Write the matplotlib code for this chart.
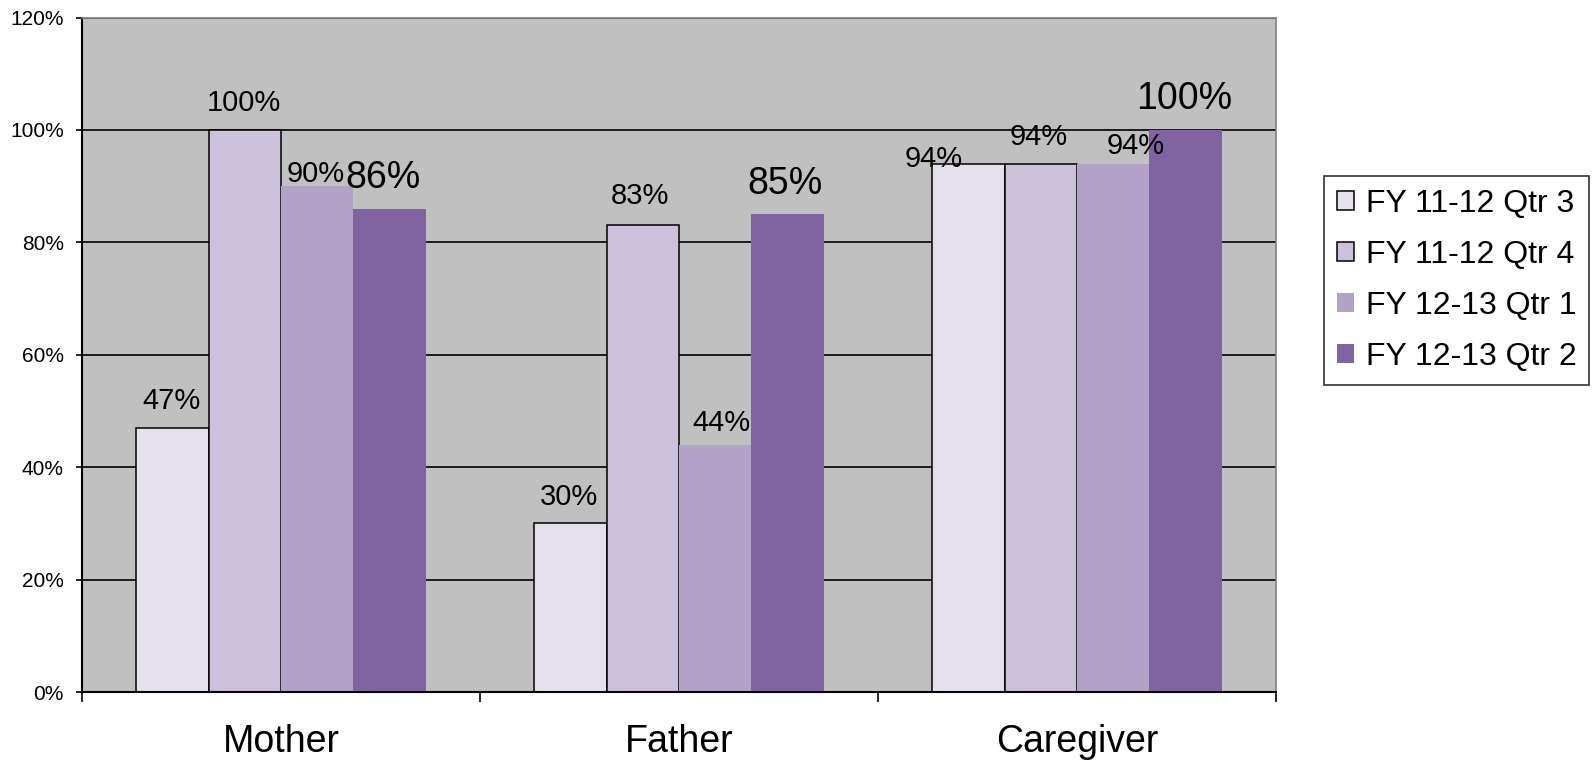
import matplotlib.pyplot as plt
import numpy as np

plt.rcParams['font.family'] = ['Liberation Sans', 'DejaVu Sans']

# data
categories = ['Mother', 'Father', 'Caregiver']
series_names = ['FY 11-12 Qtr 3', 'FY 11-12 Qtr 4', 'FY 12-13 Qtr 1', 'FY 12-13 Qtr 2']
qtr3_1112 = [47, 30, 94]
qtr4_1112 = [100, 83, 94]
qtr1_1213 = [90, 44, 94]
qtr2_1213 = [86, 85, 100]
y_ticks = [0, 20, 40, 60, 80, 100, 120]

series = [qtr3_1112, qtr4_1112, qtr1_1213, qtr2_1213]
colors = ['#E6E0EC', '#CCC1DA', '#B3A2C7', '#8064A2']
edges = ['black', 'black', 'none', 'none']
label_sizes = [21, 21, 21, 27]

# label offsets in pixels (dx, dy) from the top centre of each bar
label_offsets = [
    [(-1, 27), (-1, 26), (-35, 5)],
    [(-1, 27), (-3, 29), (-2, 27)],
    [(-2, 12), (6, 22), (22, 18)],
    [(-7, 31), (-3, 30), (-1, 31)],
]

fig = plt.figure(figsize=(15.94, 7.65), dpi=100)
ax = fig.add_axes([82 / 1594, 1 - 692 / 765, (1276 - 82) / 1594, (692 - 17.5) / 765])
ax.set_facecolor('#C0C0C0')

x = np.arange(len(categories))
width = 0.182
for i, vals in enumerate(series):
    pos = x + (i - 1.5) * width
    bars = ax.bar(pos, vals, width, color=colors[i], edgecolor=edges[i],
                  linewidth=1.1, label=series_names[i], zorder=3)
    for j, b in enumerate(bars):
        dx, dy = label_offsets[i][j]
        ax.annotate(f'{vals[j]}%', (b.get_x() + b.get_width() / 2, vals[j]),
                    xytext=(dx, dy), textcoords='offset pixels',
                    ha='center', va='center', fontsize=label_sizes[i], zorder=5)

ax.set_ylim(0, 120)
ax.set_xlim(-0.5, 2.5)
ax.set_yticks(y_ticks)
ax.set_yticklabels([f'{t}%' for t in y_ticks], fontsize=15)
ax.yaxis.grid(True, color='black', linewidth=1.2, zorder=0)
ax.set_axisbelow(True)
ax.tick_params(axis='y', direction='out', length=4.5, width=1.2, pad=8.5)

ax.set_xticks([-0.5, 0.5, 1.5, 2.5])
ax.set_xticklabels([])
ax.set_xticks(x, minor=True)
ax.set_xticklabels(categories, minor=True, fontsize=27)
ax.tick_params(axis='x', which='major', direction='out', length=7, width=1.2)
ax.tick_params(axis='x', which='minor', length=0, pad=23)

for s in ['left', 'bottom']:
    ax.spines[s].set_color('black')
    ax.spines[s].set_linewidth(1.5)
for s in ['top', 'right']:
    ax.spines[s].set_color('#808080')
    ax.spines[s].set_linewidth(1.2)
ax.spines['bottom'].set_zorder(4)

leg = fig.legend(loc='upper left', bbox_to_anchor=(1324 / 1594, 1 - 176 / 765),
                 fontsize=23, frameon=True, fancybox=False, shadow=False,
                 handlelength=0.55, handleheight=0.55, handletextpad=0.35,
                 labelspacing=0.66, borderpad=0.4, borderaxespad=0)
leg.get_frame().set_edgecolor('black')
leg.get_frame().set_linewidth(1.2)

fig.savefig('out.png', dpi=100)
